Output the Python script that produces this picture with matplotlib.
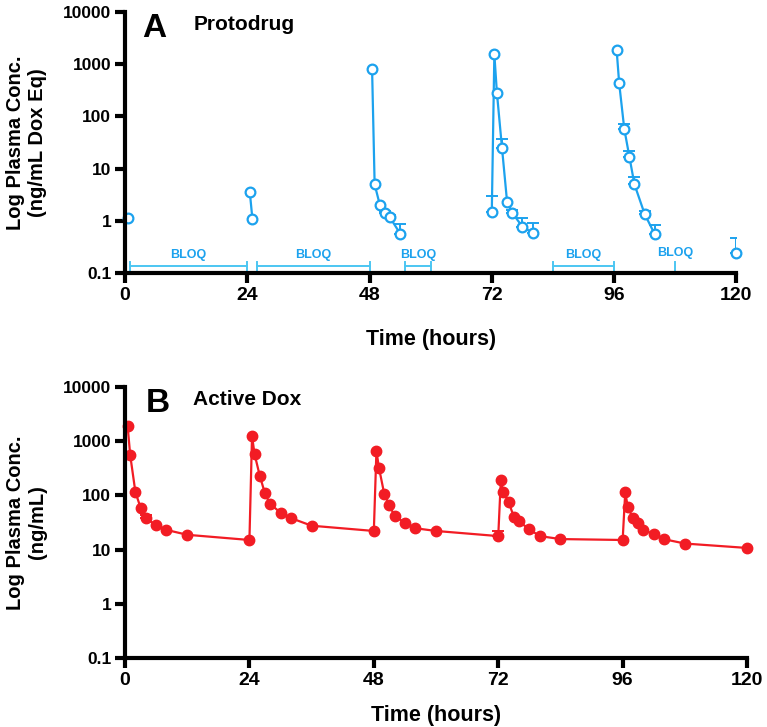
import numpy as np
import matplotlib
matplotlib.use("Agg")
import matplotlib.pyplot as plt

# ---------------- Data ----------------
# Panel A: Protodrug (ng/mL Dox Eq); groups separate connected segments
protodrug_time = [0.5, 24.5, 25, 48.5, 49, 50, 51, 52, 54,
                  72, 72.5, 73, 74, 75, 76, 78, 80,
                  96.5, 97, 98, 99, 100, 102, 104, 120]
protodrug_conc = [1.15, 3.5, 1.1, 800, 5.0, 2.05, 1.38, 1.16, 0.57,
                  1.5, 1550, 285, 25, 2.3, 1.43, 0.77, 0.59,
                  1900, 435, 58, 17, 5.0, 1.35, 0.55, 0.24]
protodrug_group = [0, 1, 1, 2, 2, 2, 2, 2, 2,
                   3, 3, 3, 3, 3, 3, 3, 3,
                   4, 4, 4, 4, 4, 4, 4, 5]
protodrug_err = [0, 0, 0, 0, 0, 0, 0.15, 0.12, 0.28,
                 1.5, 0, 0, 12, 0, 0.17, 0.37, 0.31,
                 0, 0, 12, 5, 1.8, 0.2, 0.29, 0.23]

# BLOQ intervals (hours)
bloq_start = [1, 26, 55, 84, 108]
bloq_end = [24, 48, 60, 96, 108]

# Panel B: Active Dox (ng/mL)
dox_time = [0.5, 1, 2, 3, 4, 6, 8, 12, 24,
            24.5, 25, 26, 27, 28, 30, 32, 36, 48,
            48.5, 49, 50, 51, 52, 54, 56, 60, 72,
            72.5, 73, 74, 75, 76, 78, 80, 84, 96,
            96.5, 97, 98, 99, 100, 102, 104, 108, 120]
dox_conc = [1900, 550, 115, 59, 38, 28, 23, 18.7, 15,
            1230, 570, 228, 108, 69, 48, 38, 27.5, 22,
            650, 318, 107, 65, 42, 31, 24.7, 22, 17.7,
            191, 113, 75, 40.4, 33, 23.6, 17.7, 15.6, 15,
            115, 60, 38.3, 31, 22.6, 19.5, 15.5, 12.9, 10.7]
dox_err = [0, 0, 0, 0, 6, 0, 0, 0, 0,
           0, 0, 0, 0, 0, 0, 0, 0, 0,
           0, 0, 0, 0, 0, 0, 0, 0, 4,
           0, 0, 0, 0, 0, 0, 0, 0, 0,
           0, 0, 0, 0, 0, 0, 0, 0, 0]

x_ticks = [0, 24, 48, 72, 96, 120]
y_ticks = [0.1, 1, 10, 100, 1000, 10000]
y_ticklabels = ["0.1", "1", "10", "100", "1000", "10000"]

# ---------------- Style ----------------
plt.rcParams['font.family'] = ['Liberation Sans', 'DejaVu Sans']
plt.rcParams['font.weight'] = 'bold'
BLUE = "#1ca2ee"
LIGHT_BLUE = "#4cc6f2"
RED = "#f21c24"

fig = plt.figure(figsize=(7.67, 7.27), dpi=100)
axA = fig.add_axes([0.163, 0.6245, 0.797, 0.359])
axB = fig.add_axes([0.163, 0.0949, 0.811, 0.373])


def style_axis(ax):
    ax.set_yscale('log')
    ax.set_xlim(0, 120)
    ax.set_ylim(0.1, 10000)
    for s in ['top', 'right']:
        ax.spines[s].set_visible(False)
    for s in ['left', 'bottom']:
        ax.spines[s].set_linewidth(3.0)
    ax.set_xticks(x_ticks)
    ax.set_xticklabels([str(t) for t in x_ticks], fontsize=14, fontweight='bold')
    ax.set_yticks(y_ticks)
    ax.set_yticklabels(y_ticklabels, fontsize=12.5, fontweight='bold')
    ax.yaxis.set_minor_locator(matplotlib.ticker.NullLocator())
    ax.tick_params(axis='both', which='major', length=7, width=3, direction='out', pad=3)
    ax.set_xlabel("Time (hours)", fontsize=15.5, fontweight='bold')
    for spine in ax.spines.values():
        spine.set_zorder(5)


# ---- Panel A ----
style_axis(axA)
axA.xaxis.set_label_coords(0.5, -0.215)
t = np.array(protodrug_time)
c = np.array(protodrug_conc)
g = np.array(protodrug_group)
e = np.array(protodrug_err)
for gid in np.unique(g):
    m = g == gid
    axA.plot(t[m], c[m], color=BLUE, lw=1.6, zorder=3)
mask = e > 0
axA.errorbar(t[mask], c[mask], yerr=[np.zeros(mask.sum()), e[mask]], fmt='none',
             ecolor=BLUE, elinewidth=1.4, capsize=4.5, capthick=1.4, zorder=3)
axA.plot(t, c, 'o', ms=7, mfc='white', mec=BLUE, mew=1.6, ls='none', zorder=4,
         clip_on=False)

bloq_y = 0.135
for s0, s1 in zip(bloq_start, bloq_end):
    if s1 > s0:
        axA.plot([s0, s1], [bloq_y, bloq_y], color=LIGHT_BLUE, lw=1.4, zorder=2)
        axA.plot([s0, s0], [bloq_y / 1.22, bloq_y * 1.22], color=LIGHT_BLUE, lw=1.4, zorder=2)
        axA.plot([s1, s1], [bloq_y / 1.22, bloq_y * 1.22], color=LIGHT_BLUE, lw=1.4, zorder=2)
        axA.text((s0 + s1) / 2, 0.168, "BLOQ", color=BLUE, fontsize=9,
                 fontweight='bold', ha='center', va='bottom')
    else:
        axA.plot([s0, s0], [bloq_y / 1.22, bloq_y * 1.22], color=LIGHT_BLUE, lw=1.4, zorder=2)
        axA.text(s0, 0.185, "BLOQ", color=BLUE, fontsize=9,
                 fontweight='bold', ha='center', va='bottom')

axA.set_ylabel("Log Plasma Conc.\n(ng/mL Dox Eq)", fontsize=14.5, fontweight='bold',
               linespacing=1.2)
axA.yaxis.set_label_coords(-0.128, 0.5)
axA.text(0.028, 0.995, "A", transform=axA.transAxes, fontsize=24, fontweight='bold',
         va='top', ha='left')
axA.text(0.112, 0.99, "Protodrug", transform=axA.transAxes, fontsize=15, fontweight='bold',
         va='top', ha='left')

# ---- Panel B ----
style_axis(axB)
axB.xaxis.set_label_coords(0.5, -0.175)
dt = np.array(dox_time)
dc = np.array(dox_conc)
de = np.array(dox_err)
axB.plot(dt, dc, color=RED, lw=1.6, zorder=3)
mk = de > 0
axB.errorbar(dt[mk], dc[mk], yerr=[np.zeros(mk.sum()), de[mk]], fmt='none',
             ecolor=RED, elinewidth=1.4, capsize=4.5, capthick=1.4, zorder=3)
axB.plot(dt, dc, 'o', ms=7.5, color=RED, ls='none', zorder=4, clip_on=False)

axB.set_ylabel("Log Plasma Conc.\n(ng/mL)", fontsize=14.5, fontweight='bold',
               linespacing=1.2)
axB.yaxis.set_label_coords(-0.126, 0.5)
axB.text(0.033, 0.995, "B", transform=axB.transAxes, fontsize=24, fontweight='bold',
         va='top', ha='left')
axB.text(0.109, 0.99, "Active Dox", transform=axB.transAxes, fontsize=15, fontweight='bold',
         va='top', ha='left')

fig.savefig("out.png", dpi=100)
